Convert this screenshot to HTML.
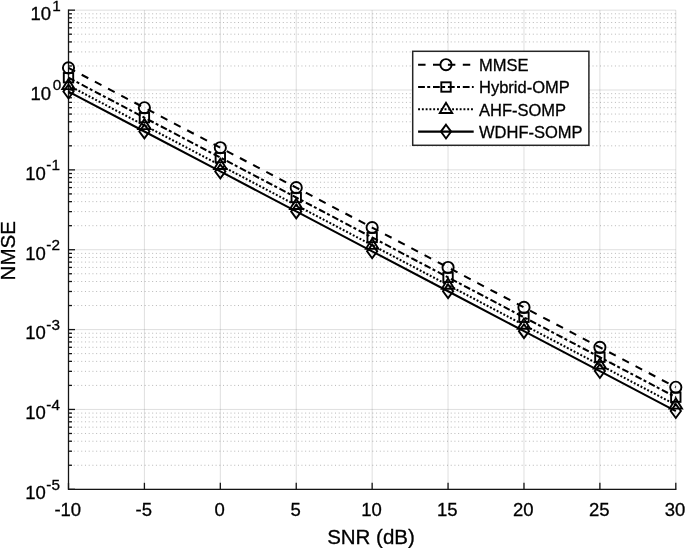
<!DOCTYPE html>
<html><head><meta charset="utf-8"><title>NMSE vs SNR</title>
<style>html,body{margin:0;padding:0;background:#fff;width:685px;height:548px;overflow:hidden}svg{display:block;filter:blur(0.3px);font-family:"Liberation Sans",sans-serif}text{stroke:#000;stroke-width:0.3}</style>
</head><body>
<svg width="685" height="548" viewBox="0 0 685 548" font-family="Liberation Sans, sans-serif">
<rect width="685" height="548" fill="#fff"/>
<line x1="68.50" y1="465.26" x2="675.80" y2="465.26" stroke="#b8b8b8" stroke-width="1.0" stroke-dasharray="1 2.732" stroke-dashoffset="-1.54"/>
<line x1="68.50" y1="451.20" x2="675.80" y2="451.20" stroke="#b8b8b8" stroke-width="1.0" stroke-dasharray="1 2.732" stroke-dashoffset="-1.54"/>
<line x1="68.50" y1="441.22" x2="675.80" y2="441.22" stroke="#b8b8b8" stroke-width="1.0" stroke-dasharray="1 2.732" stroke-dashoffset="-1.54"/>
<line x1="68.50" y1="433.48" x2="675.80" y2="433.48" stroke="#b8b8b8" stroke-width="1.0" stroke-dasharray="1 2.732" stroke-dashoffset="-1.54"/>
<line x1="68.50" y1="427.16" x2="675.80" y2="427.16" stroke="#b8b8b8" stroke-width="1.0" stroke-dasharray="1 2.732" stroke-dashoffset="-1.54"/>
<line x1="68.50" y1="421.81" x2="675.80" y2="421.81" stroke="#b8b8b8" stroke-width="1.0" stroke-dasharray="1 2.732" stroke-dashoffset="-1.54"/>
<line x1="68.50" y1="417.18" x2="675.80" y2="417.18" stroke="#b8b8b8" stroke-width="1.0" stroke-dasharray="1 2.732" stroke-dashoffset="-1.54"/>
<line x1="68.50" y1="413.10" x2="675.80" y2="413.10" stroke="#b8b8b8" stroke-width="1.0" stroke-dasharray="1 2.732" stroke-dashoffset="-1.54"/>
<line x1="68.50" y1="385.40" x2="675.80" y2="385.40" stroke="#b8b8b8" stroke-width="1.0" stroke-dasharray="1 2.732" stroke-dashoffset="-1.54"/>
<line x1="68.50" y1="371.34" x2="675.80" y2="371.34" stroke="#b8b8b8" stroke-width="1.0" stroke-dasharray="1 2.732" stroke-dashoffset="-1.54"/>
<line x1="68.50" y1="361.36" x2="675.80" y2="361.36" stroke="#b8b8b8" stroke-width="1.0" stroke-dasharray="1 2.732" stroke-dashoffset="-1.54"/>
<line x1="68.50" y1="353.62" x2="675.80" y2="353.62" stroke="#b8b8b8" stroke-width="1.0" stroke-dasharray="1 2.732" stroke-dashoffset="-1.54"/>
<line x1="68.50" y1="347.30" x2="675.80" y2="347.30" stroke="#b8b8b8" stroke-width="1.0" stroke-dasharray="1 2.732" stroke-dashoffset="-1.54"/>
<line x1="68.50" y1="341.95" x2="675.80" y2="341.95" stroke="#b8b8b8" stroke-width="1.0" stroke-dasharray="1 2.732" stroke-dashoffset="-1.54"/>
<line x1="68.50" y1="337.32" x2="675.80" y2="337.32" stroke="#b8b8b8" stroke-width="1.0" stroke-dasharray="1 2.732" stroke-dashoffset="-1.54"/>
<line x1="68.50" y1="333.24" x2="675.80" y2="333.24" stroke="#b8b8b8" stroke-width="1.0" stroke-dasharray="1 2.732" stroke-dashoffset="-1.54"/>
<line x1="68.50" y1="305.54" x2="675.80" y2="305.54" stroke="#b8b8b8" stroke-width="1.0" stroke-dasharray="1 2.732" stroke-dashoffset="-1.54"/>
<line x1="68.50" y1="291.48" x2="675.80" y2="291.48" stroke="#b8b8b8" stroke-width="1.0" stroke-dasharray="1 2.732" stroke-dashoffset="-1.54"/>
<line x1="68.50" y1="281.50" x2="675.80" y2="281.50" stroke="#b8b8b8" stroke-width="1.0" stroke-dasharray="1 2.732" stroke-dashoffset="-1.54"/>
<line x1="68.50" y1="273.76" x2="675.80" y2="273.76" stroke="#b8b8b8" stroke-width="1.0" stroke-dasharray="1 2.732" stroke-dashoffset="-1.54"/>
<line x1="68.50" y1="267.44" x2="675.80" y2="267.44" stroke="#b8b8b8" stroke-width="1.0" stroke-dasharray="1 2.732" stroke-dashoffset="-1.54"/>
<line x1="68.50" y1="262.10" x2="675.80" y2="262.10" stroke="#b8b8b8" stroke-width="1.0" stroke-dasharray="1 2.732" stroke-dashoffset="-1.54"/>
<line x1="68.50" y1="257.46" x2="675.80" y2="257.46" stroke="#b8b8b8" stroke-width="1.0" stroke-dasharray="1 2.732" stroke-dashoffset="-1.54"/>
<line x1="68.50" y1="253.38" x2="675.80" y2="253.38" stroke="#b8b8b8" stroke-width="1.0" stroke-dasharray="1 2.732" stroke-dashoffset="-1.54"/>
<line x1="68.50" y1="225.69" x2="675.80" y2="225.69" stroke="#b8b8b8" stroke-width="1.0" stroke-dasharray="1 2.732" stroke-dashoffset="-1.54"/>
<line x1="68.50" y1="211.62" x2="675.80" y2="211.62" stroke="#b8b8b8" stroke-width="1.0" stroke-dasharray="1 2.732" stroke-dashoffset="-1.54"/>
<line x1="68.50" y1="201.65" x2="675.80" y2="201.65" stroke="#b8b8b8" stroke-width="1.0" stroke-dasharray="1 2.732" stroke-dashoffset="-1.54"/>
<line x1="68.50" y1="193.91" x2="675.80" y2="193.91" stroke="#b8b8b8" stroke-width="1.0" stroke-dasharray="1 2.732" stroke-dashoffset="-1.54"/>
<line x1="68.50" y1="187.58" x2="675.80" y2="187.58" stroke="#b8b8b8" stroke-width="1.0" stroke-dasharray="1 2.732" stroke-dashoffset="-1.54"/>
<line x1="68.50" y1="182.24" x2="675.80" y2="182.24" stroke="#b8b8b8" stroke-width="1.0" stroke-dasharray="1 2.732" stroke-dashoffset="-1.54"/>
<line x1="68.50" y1="177.61" x2="675.80" y2="177.61" stroke="#b8b8b8" stroke-width="1.0" stroke-dasharray="1 2.732" stroke-dashoffset="-1.54"/>
<line x1="68.50" y1="173.52" x2="675.80" y2="173.52" stroke="#b8b8b8" stroke-width="1.0" stroke-dasharray="1 2.732" stroke-dashoffset="-1.54"/>
<line x1="68.50" y1="145.83" x2="675.80" y2="145.83" stroke="#b8b8b8" stroke-width="1.0" stroke-dasharray="1 2.732" stroke-dashoffset="-1.54"/>
<line x1="68.50" y1="131.76" x2="675.80" y2="131.76" stroke="#b8b8b8" stroke-width="1.0" stroke-dasharray="1 2.732" stroke-dashoffset="-1.54"/>
<line x1="68.50" y1="121.79" x2="675.80" y2="121.79" stroke="#b8b8b8" stroke-width="1.0" stroke-dasharray="1 2.732" stroke-dashoffset="-1.54"/>
<line x1="68.50" y1="114.05" x2="675.80" y2="114.05" stroke="#b8b8b8" stroke-width="1.0" stroke-dasharray="1 2.732" stroke-dashoffset="-1.54"/>
<line x1="68.50" y1="107.72" x2="675.80" y2="107.72" stroke="#b8b8b8" stroke-width="1.0" stroke-dasharray="1 2.732" stroke-dashoffset="-1.54"/>
<line x1="68.50" y1="102.38" x2="675.80" y2="102.38" stroke="#b8b8b8" stroke-width="1.0" stroke-dasharray="1 2.732" stroke-dashoffset="-1.54"/>
<line x1="68.50" y1="97.75" x2="675.80" y2="97.75" stroke="#b8b8b8" stroke-width="1.0" stroke-dasharray="1 2.732" stroke-dashoffset="-1.54"/>
<line x1="68.50" y1="93.66" x2="675.80" y2="93.66" stroke="#b8b8b8" stroke-width="1.0" stroke-dasharray="1 2.732" stroke-dashoffset="-1.54"/>
<line x1="68.50" y1="65.97" x2="675.80" y2="65.97" stroke="#b8b8b8" stroke-width="1.0" stroke-dasharray="1 2.732" stroke-dashoffset="-1.54"/>
<line x1="68.50" y1="51.91" x2="675.80" y2="51.91" stroke="#b8b8b8" stroke-width="1.0" stroke-dasharray="1 2.732" stroke-dashoffset="-1.54"/>
<line x1="68.50" y1="41.93" x2="675.80" y2="41.93" stroke="#b8b8b8" stroke-width="1.0" stroke-dasharray="1 2.732" stroke-dashoffset="-1.54"/>
<line x1="68.50" y1="34.19" x2="675.80" y2="34.19" stroke="#b8b8b8" stroke-width="1.0" stroke-dasharray="1 2.732" stroke-dashoffset="-1.54"/>
<line x1="68.50" y1="27.87" x2="675.80" y2="27.87" stroke="#b8b8b8" stroke-width="1.0" stroke-dasharray="1 2.732" stroke-dashoffset="-1.54"/>
<line x1="68.50" y1="22.52" x2="675.80" y2="22.52" stroke="#b8b8b8" stroke-width="1.0" stroke-dasharray="1 2.732" stroke-dashoffset="-1.54"/>
<line x1="68.50" y1="17.89" x2="675.80" y2="17.89" stroke="#b8b8b8" stroke-width="1.0" stroke-dasharray="1 2.732" stroke-dashoffset="-1.54"/>
<line x1="68.50" y1="13.80" x2="675.80" y2="13.80" stroke="#b8b8b8" stroke-width="1.0" stroke-dasharray="1 2.732" stroke-dashoffset="-1.54"/>
<line x1="68.50" y1="489.30" x2="675.80" y2="489.30" stroke="#262626" stroke-opacity="0.15" stroke-width="1.0"/>
<line x1="68.50" y1="409.44" x2="675.80" y2="409.44" stroke="#262626" stroke-opacity="0.15" stroke-width="1.0"/>
<line x1="68.50" y1="329.58" x2="675.80" y2="329.58" stroke="#262626" stroke-opacity="0.15" stroke-width="1.0"/>
<line x1="68.50" y1="249.72" x2="675.80" y2="249.72" stroke="#262626" stroke-opacity="0.15" stroke-width="1.0"/>
<line x1="68.50" y1="169.87" x2="675.80" y2="169.87" stroke="#262626" stroke-opacity="0.15" stroke-width="1.0"/>
<line x1="68.50" y1="90.01" x2="675.80" y2="90.01" stroke="#262626" stroke-opacity="0.15" stroke-width="1.0"/>
<line x1="68.50" y1="10.15" x2="675.80" y2="10.15" stroke="#262626" stroke-opacity="0.15" stroke-width="1.0"/>
<line x1="68.50" y1="10.15" x2="68.50" y2="489.30" stroke="#262626" stroke-opacity="0.15" stroke-width="1.0"/>
<line x1="144.41" y1="10.15" x2="144.41" y2="489.30" stroke="#262626" stroke-opacity="0.15" stroke-width="1.0"/>
<line x1="220.32" y1="10.15" x2="220.32" y2="489.30" stroke="#262626" stroke-opacity="0.15" stroke-width="1.0"/>
<line x1="296.24" y1="10.15" x2="296.24" y2="489.30" stroke="#262626" stroke-opacity="0.15" stroke-width="1.0"/>
<line x1="372.15" y1="10.15" x2="372.15" y2="489.30" stroke="#262626" stroke-opacity="0.15" stroke-width="1.0"/>
<line x1="448.06" y1="10.15" x2="448.06" y2="489.30" stroke="#262626" stroke-opacity="0.15" stroke-width="1.0"/>
<line x1="523.98" y1="10.15" x2="523.98" y2="489.30" stroke="#262626" stroke-opacity="0.15" stroke-width="1.0"/>
<line x1="599.89" y1="10.15" x2="599.89" y2="489.30" stroke="#262626" stroke-opacity="0.15" stroke-width="1.0"/>
<line x1="675.80" y1="10.15" x2="675.80" y2="489.30" stroke="#262626" stroke-opacity="0.15" stroke-width="1.0"/>
<path d="M68.50,10.15 L68.50,489.30 L675.80,489.30" fill="none" stroke="#141414" stroke-width="1.3" stroke-linecap="square"/>
<line x1="68.50" y1="489.30" x2="75.00" y2="489.30" stroke="#141414" stroke-width="1.3"/>
<line x1="68.50" y1="409.44" x2="75.00" y2="409.44" stroke="#141414" stroke-width="1.3"/>
<line x1="68.50" y1="329.58" x2="75.00" y2="329.58" stroke="#141414" stroke-width="1.3"/>
<line x1="68.50" y1="249.72" x2="75.00" y2="249.72" stroke="#141414" stroke-width="1.3"/>
<line x1="68.50" y1="169.87" x2="75.00" y2="169.87" stroke="#141414" stroke-width="1.3"/>
<line x1="68.50" y1="90.01" x2="75.00" y2="90.01" stroke="#141414" stroke-width="1.3"/>
<line x1="68.50" y1="10.15" x2="75.00" y2="10.15" stroke="#141414" stroke-width="1.3"/>
<line x1="68.50" y1="465.26" x2="72.00" y2="465.26" stroke="#141414" stroke-width="1.3"/>
<line x1="68.50" y1="451.20" x2="72.00" y2="451.20" stroke="#141414" stroke-width="1.3"/>
<line x1="68.50" y1="441.22" x2="72.00" y2="441.22" stroke="#141414" stroke-width="1.3"/>
<line x1="68.50" y1="433.48" x2="72.00" y2="433.48" stroke="#141414" stroke-width="1.3"/>
<line x1="68.50" y1="427.16" x2="72.00" y2="427.16" stroke="#141414" stroke-width="1.3"/>
<line x1="68.50" y1="421.81" x2="72.00" y2="421.81" stroke="#141414" stroke-width="1.3"/>
<line x1="68.50" y1="417.18" x2="72.00" y2="417.18" stroke="#141414" stroke-width="1.3"/>
<line x1="68.50" y1="413.10" x2="72.00" y2="413.10" stroke="#141414" stroke-width="1.3"/>
<line x1="68.50" y1="385.40" x2="72.00" y2="385.40" stroke="#141414" stroke-width="1.3"/>
<line x1="68.50" y1="371.34" x2="72.00" y2="371.34" stroke="#141414" stroke-width="1.3"/>
<line x1="68.50" y1="361.36" x2="72.00" y2="361.36" stroke="#141414" stroke-width="1.3"/>
<line x1="68.50" y1="353.62" x2="72.00" y2="353.62" stroke="#141414" stroke-width="1.3"/>
<line x1="68.50" y1="347.30" x2="72.00" y2="347.30" stroke="#141414" stroke-width="1.3"/>
<line x1="68.50" y1="341.95" x2="72.00" y2="341.95" stroke="#141414" stroke-width="1.3"/>
<line x1="68.50" y1="337.32" x2="72.00" y2="337.32" stroke="#141414" stroke-width="1.3"/>
<line x1="68.50" y1="333.24" x2="72.00" y2="333.24" stroke="#141414" stroke-width="1.3"/>
<line x1="68.50" y1="305.54" x2="72.00" y2="305.54" stroke="#141414" stroke-width="1.3"/>
<line x1="68.50" y1="291.48" x2="72.00" y2="291.48" stroke="#141414" stroke-width="1.3"/>
<line x1="68.50" y1="281.50" x2="72.00" y2="281.50" stroke="#141414" stroke-width="1.3"/>
<line x1="68.50" y1="273.76" x2="72.00" y2="273.76" stroke="#141414" stroke-width="1.3"/>
<line x1="68.50" y1="267.44" x2="72.00" y2="267.44" stroke="#141414" stroke-width="1.3"/>
<line x1="68.50" y1="262.10" x2="72.00" y2="262.10" stroke="#141414" stroke-width="1.3"/>
<line x1="68.50" y1="257.46" x2="72.00" y2="257.46" stroke="#141414" stroke-width="1.3"/>
<line x1="68.50" y1="253.38" x2="72.00" y2="253.38" stroke="#141414" stroke-width="1.3"/>
<line x1="68.50" y1="225.69" x2="72.00" y2="225.69" stroke="#141414" stroke-width="1.3"/>
<line x1="68.50" y1="211.62" x2="72.00" y2="211.62" stroke="#141414" stroke-width="1.3"/>
<line x1="68.50" y1="201.65" x2="72.00" y2="201.65" stroke="#141414" stroke-width="1.3"/>
<line x1="68.50" y1="193.91" x2="72.00" y2="193.91" stroke="#141414" stroke-width="1.3"/>
<line x1="68.50" y1="187.58" x2="72.00" y2="187.58" stroke="#141414" stroke-width="1.3"/>
<line x1="68.50" y1="182.24" x2="72.00" y2="182.24" stroke="#141414" stroke-width="1.3"/>
<line x1="68.50" y1="177.61" x2="72.00" y2="177.61" stroke="#141414" stroke-width="1.3"/>
<line x1="68.50" y1="173.52" x2="72.00" y2="173.52" stroke="#141414" stroke-width="1.3"/>
<line x1="68.50" y1="145.83" x2="72.00" y2="145.83" stroke="#141414" stroke-width="1.3"/>
<line x1="68.50" y1="131.76" x2="72.00" y2="131.76" stroke="#141414" stroke-width="1.3"/>
<line x1="68.50" y1="121.79" x2="72.00" y2="121.79" stroke="#141414" stroke-width="1.3"/>
<line x1="68.50" y1="114.05" x2="72.00" y2="114.05" stroke="#141414" stroke-width="1.3"/>
<line x1="68.50" y1="107.72" x2="72.00" y2="107.72" stroke="#141414" stroke-width="1.3"/>
<line x1="68.50" y1="102.38" x2="72.00" y2="102.38" stroke="#141414" stroke-width="1.3"/>
<line x1="68.50" y1="97.75" x2="72.00" y2="97.75" stroke="#141414" stroke-width="1.3"/>
<line x1="68.50" y1="93.66" x2="72.00" y2="93.66" stroke="#141414" stroke-width="1.3"/>
<line x1="68.50" y1="65.97" x2="72.00" y2="65.97" stroke="#141414" stroke-width="1.3"/>
<line x1="68.50" y1="51.91" x2="72.00" y2="51.91" stroke="#141414" stroke-width="1.3"/>
<line x1="68.50" y1="41.93" x2="72.00" y2="41.93" stroke="#141414" stroke-width="1.3"/>
<line x1="68.50" y1="34.19" x2="72.00" y2="34.19" stroke="#141414" stroke-width="1.3"/>
<line x1="68.50" y1="27.87" x2="72.00" y2="27.87" stroke="#141414" stroke-width="1.3"/>
<line x1="68.50" y1="22.52" x2="72.00" y2="22.52" stroke="#141414" stroke-width="1.3"/>
<line x1="68.50" y1="17.89" x2="72.00" y2="17.89" stroke="#141414" stroke-width="1.3"/>
<line x1="68.50" y1="13.80" x2="72.00" y2="13.80" stroke="#141414" stroke-width="1.3"/>
<line x1="68.50" y1="489.30" x2="68.50" y2="482.80" stroke="#141414" stroke-width="1.3"/>
<line x1="144.41" y1="489.30" x2="144.41" y2="482.80" stroke="#141414" stroke-width="1.3"/>
<line x1="220.32" y1="489.30" x2="220.32" y2="482.80" stroke="#141414" stroke-width="1.3"/>
<line x1="296.24" y1="489.30" x2="296.24" y2="482.80" stroke="#141414" stroke-width="1.3"/>
<line x1="372.15" y1="489.30" x2="372.15" y2="482.80" stroke="#141414" stroke-width="1.3"/>
<line x1="448.06" y1="489.30" x2="448.06" y2="482.80" stroke="#141414" stroke-width="1.3"/>
<line x1="523.98" y1="489.30" x2="523.98" y2="482.80" stroke="#141414" stroke-width="1.3"/>
<line x1="599.89" y1="489.30" x2="599.89" y2="482.80" stroke="#141414" stroke-width="1.3"/>
<line x1="675.80" y1="489.30" x2="675.80" y2="482.80" stroke="#141414" stroke-width="1.3"/>
<polyline points="68.50,67.84 144.41,107.77 220.32,147.70 296.24,187.63 372.15,227.56 448.06,267.48 523.98,307.41 599.89,347.34 675.80,387.27" fill="none" stroke="#000" stroke-width="2.05" stroke-dasharray="7.45 7.45"/>
<polyline points="68.50,77.72 144.41,117.65 220.32,157.58 296.24,197.51 372.15,237.44 448.06,277.37 523.98,317.30 599.89,357.23 675.80,397.16" fill="none" stroke="#000" stroke-width="2.05" stroke-dasharray="6.8 2.3 3.0 2.8"/>
<polyline points="68.50,85.46 144.41,125.39 220.32,165.32 296.24,205.25 372.15,245.18 448.06,285.11 523.98,325.04 599.89,364.97 675.80,404.90" fill="none" stroke="#000" stroke-width="2.05" stroke-dasharray="1.9 1.88"/>
<polyline points="68.50,91.61 144.41,131.53 220.32,171.46 296.24,211.39 372.15,251.32 448.06,291.25 523.98,331.18 599.89,371.11 675.80,411.04" fill="none" stroke="#000" stroke-width="2.05"/>
<circle cx="68.50" cy="67.84" r="5.6" fill="none" stroke="#000" stroke-width="1.9"/>
<circle cx="144.41" cy="107.77" r="5.6" fill="none" stroke="#000" stroke-width="1.9"/>
<circle cx="220.32" cy="147.70" r="5.6" fill="none" stroke="#000" stroke-width="1.9"/>
<circle cx="296.24" cy="187.63" r="5.6" fill="none" stroke="#000" stroke-width="1.9"/>
<circle cx="372.15" cy="227.56" r="5.6" fill="none" stroke="#000" stroke-width="1.9"/>
<circle cx="448.06" cy="267.48" r="5.6" fill="none" stroke="#000" stroke-width="1.9"/>
<circle cx="523.98" cy="307.41" r="5.6" fill="none" stroke="#000" stroke-width="1.9"/>
<circle cx="599.89" cy="347.34" r="5.6" fill="none" stroke="#000" stroke-width="1.9"/>
<circle cx="675.80" cy="387.27" r="5.6" fill="none" stroke="#000" stroke-width="1.9"/>
<rect x="63.80" y="73.02" width="9.40" height="9.40" fill="none" stroke="#000" stroke-width="1.9"/>
<rect x="139.71" y="112.95" width="9.40" height="9.40" fill="none" stroke="#000" stroke-width="1.9"/>
<rect x="215.62" y="152.88" width="9.40" height="9.40" fill="none" stroke="#000" stroke-width="1.9"/>
<rect x="291.54" y="192.81" width="9.40" height="9.40" fill="none" stroke="#000" stroke-width="1.9"/>
<rect x="367.45" y="232.74" width="9.40" height="9.40" fill="none" stroke="#000" stroke-width="1.9"/>
<rect x="443.36" y="272.67" width="9.40" height="9.40" fill="none" stroke="#000" stroke-width="1.9"/>
<rect x="519.27" y="312.60" width="9.40" height="9.40" fill="none" stroke="#000" stroke-width="1.9"/>
<rect x="595.19" y="352.53" width="9.40" height="9.40" fill="none" stroke="#000" stroke-width="1.9"/>
<rect x="671.10" y="392.46" width="9.40" height="9.40" fill="none" stroke="#000" stroke-width="1.9"/>
<polygon points="68.50,78.96 62.30,89.16 74.70,89.16" fill="none" stroke="#000" stroke-width="1.9" stroke-linejoin="miter"/>
<polygon points="144.41,118.89 138.21,129.09 150.61,129.09" fill="none" stroke="#000" stroke-width="1.9" stroke-linejoin="miter"/>
<polygon points="220.32,158.82 214.12,169.02 226.52,169.02" fill="none" stroke="#000" stroke-width="1.9" stroke-linejoin="miter"/>
<polygon points="296.24,198.75 290.04,208.95 302.44,208.95" fill="none" stroke="#000" stroke-width="1.9" stroke-linejoin="miter"/>
<polygon points="372.15,238.68 365.95,248.88 378.35,248.88" fill="none" stroke="#000" stroke-width="1.9" stroke-linejoin="miter"/>
<polygon points="448.06,278.61 441.86,288.81 454.26,288.81" fill="none" stroke="#000" stroke-width="1.9" stroke-linejoin="miter"/>
<polygon points="523.98,318.54 517.77,328.74 530.18,328.74" fill="none" stroke="#000" stroke-width="1.9" stroke-linejoin="miter"/>
<polygon points="599.89,358.47 593.69,368.67 606.09,368.67" fill="none" stroke="#000" stroke-width="1.9" stroke-linejoin="miter"/>
<polygon points="675.80,398.40 669.60,408.60 682.00,408.60" fill="none" stroke="#000" stroke-width="1.9" stroke-linejoin="miter"/>
<polygon points="68.50,84.71 73.60,91.61 68.50,98.51 63.40,91.61" fill="none" stroke="#000" stroke-width="1.9"/>
<polygon points="144.41,124.63 149.51,131.53 144.41,138.43 139.31,131.53" fill="none" stroke="#000" stroke-width="1.9"/>
<polygon points="220.32,164.56 225.42,171.46 220.32,178.36 215.22,171.46" fill="none" stroke="#000" stroke-width="1.9"/>
<polygon points="296.24,204.49 301.34,211.39 296.24,218.29 291.14,211.39" fill="none" stroke="#000" stroke-width="1.9"/>
<polygon points="372.15,244.42 377.25,251.32 372.15,258.22 367.05,251.32" fill="none" stroke="#000" stroke-width="1.9"/>
<polygon points="448.06,284.35 453.16,291.25 448.06,298.15 442.96,291.25" fill="none" stroke="#000" stroke-width="1.9"/>
<polygon points="523.98,324.28 529.08,331.18 523.98,338.08 518.88,331.18" fill="none" stroke="#000" stroke-width="1.9"/>
<polygon points="599.89,364.21 604.99,371.11 599.89,378.01 594.79,371.11" fill="none" stroke="#000" stroke-width="1.9"/>
<polygon points="675.80,404.14 680.90,411.04 675.80,417.94 670.70,411.04" fill="none" stroke="#000" stroke-width="1.9"/>
<rect x="412.70" y="51.30" width="176.20" height="94.00" fill="#fff" stroke="#262626" stroke-width="1.5"/>
<line x1="418.1" y1="64.7" x2="473.7" y2="64.7" stroke="#000" stroke-width="2.05" stroke-dasharray="7.45 7.45"/>
<circle cx="446.00" cy="64.70" r="5.6" fill="none" stroke="#000" stroke-width="1.9"/>
<text x="479" y="71.00" font-size="16.5" fill="#000">MMSE</text>
<line x1="418.1" y1="87.0" x2="473.7" y2="87.0" stroke="#000" stroke-width="2.05" stroke-dasharray="6.8 2.3 3.0 2.8"/>
<rect x="441.30" y="82.30" width="9.40" height="9.40" fill="none" stroke="#000" stroke-width="1.9"/>
<text x="479" y="93.30" font-size="16.5" fill="#000">Hybrid-OMP</text>
<line x1="418.1" y1="109.3" x2="473.7" y2="109.3" stroke="#000" stroke-width="2.05" stroke-dasharray="1.9 1.88"/>
<polygon points="446.00,102.80 439.80,113.00 452.20,113.00" fill="none" stroke="#000" stroke-width="1.9" stroke-linejoin="miter"/>
<text x="479" y="115.60" font-size="16.5" fill="#000">AHF-SOMP</text>
<line x1="418.1" y1="131.6" x2="473.7" y2="131.6" stroke="#000" stroke-width="2.05"/>
<polygon points="446.00,124.70 451.10,131.60 446.00,138.50 440.90,131.60" fill="none" stroke="#000" stroke-width="1.9"/>
<text x="479" y="137.90" font-size="16.5" fill="#000">WDHF-SOMP</text>
<text x="67.80" y="516.3" text-anchor="middle" font-size="18.5" fill="#000">-10</text>
<text x="143.71" y="516.3" text-anchor="middle" font-size="18.5" fill="#000">-5</text>
<text x="219.62" y="516.3" text-anchor="middle" font-size="18.5" fill="#000">0</text>
<text x="295.54" y="516.3" text-anchor="middle" font-size="18.5" fill="#000">5</text>
<text x="371.45" y="516.3" text-anchor="middle" font-size="18.5" fill="#000">10</text>
<text x="447.36" y="516.3" text-anchor="middle" font-size="18.5" fill="#000">15</text>
<text x="523.27" y="516.3" text-anchor="middle" font-size="18.5" fill="#000">20</text>
<text x="599.19" y="516.3" text-anchor="middle" font-size="18.5" fill="#000">25</text>
<text x="675.10" y="516.3" text-anchor="middle" font-size="18.5" fill="#000">30</text>
<text x="59.90" y="499.10" text-anchor="end" font-size="18.5" fill="#000">10<tspan dx="0.4" dy="-9.4" font-size="15.3">-5</tspan></text>
<text x="59.90" y="419.24" text-anchor="end" font-size="18.5" fill="#000">10<tspan dx="0.4" dy="-9.4" font-size="15.3">-4</tspan></text>
<text x="59.90" y="339.38" text-anchor="end" font-size="18.5" fill="#000">10<tspan dx="0.4" dy="-9.4" font-size="15.3">-3</tspan></text>
<text x="59.90" y="259.52" text-anchor="end" font-size="18.5" fill="#000">10<tspan dx="0.4" dy="-9.4" font-size="15.3">-2</tspan></text>
<text x="59.90" y="179.67" text-anchor="end" font-size="18.5" fill="#000">10<tspan dx="0.4" dy="-9.4" font-size="15.3">-1</tspan></text>
<text x="61.20" y="99.81" text-anchor="end" font-size="18.5" fill="#000">10<tspan dx="1.7" dy="-9.4" font-size="15.3">0</tspan></text>
<text x="60.80" y="19.95" text-anchor="end" font-size="18.5" fill="#000">10<tspan dx="1.3" dy="-9.4" font-size="15.3">1</tspan></text>
<text x="371" y="544" text-anchor="middle" font-size="20.5" fill="#000">SNR (dB)</text>
<text transform="translate(14.6,250.8) rotate(-90)" text-anchor="middle" font-size="20.5" fill="#000">NMSE</text>
</svg>
</body></html>
